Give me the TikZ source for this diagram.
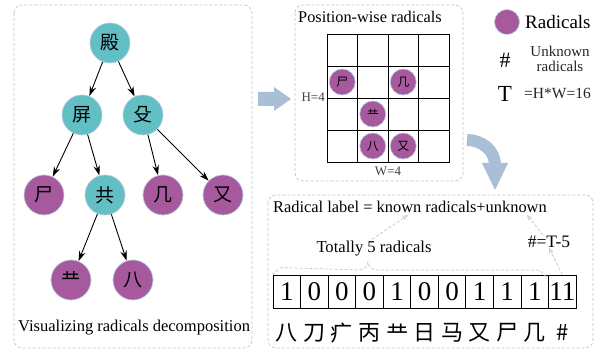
\documentclass[tikz,border=0pt]{standalone}
\usepackage{fontspec}
\setmainfont{Liberation Serif}
\newfontfamily\cjk{Noto Sans CJK SC}
\usetikzlibrary{arrows.meta}
\definecolor{tealc}{HTML}{62C0C4}
\definecolor{purp}{HTML}{A7599D}
\definecolor{dashc}{HTML}{B3C7DD}
\definecolor{barrow}{HTML}{A9BFD5}
\definecolor{rim}{HTML}{B9CBE6}
\begin{document}
\begin{tikzpicture}[x=1pt,y=-1pt,
  fs/.style={font=\fontsize{#1}{#1}\selectfont},
  tn/.style={circle,minimum size=40pt,inner sep=0pt,draw=rim,line width=0.7pt,font=\cjk\fontsize{19}{19}\selectfont},
  tealn/.style={tn,fill=tealc},
  radn/.style={tn,fill=purp},
  gn/.style={circle,minimum size=26pt,inner sep=0pt,draw=rim,line width=0.6pt,fill=purp,font=\cjk\fontsize{12}{12}\selectfont},
  cell/.style={draw=black,line width=0.9pt,minimum width=30.5pt,minimum height=32pt,inner sep=0pt},
  bcell/.style={draw=black,line width=0.9pt,minimum width=27.55pt,minimum height=33pt,inner sep=0pt,font=\fontsize{27}{27}\selectfont},
  dbox/.style={draw=dashc,line width=0.7pt,dash pattern=on 3pt off 2pt,rounded corners=8pt},
  tarr/.style={-{Stealth[length=10pt,width=6.5pt]},line width=0.9pt},
  darr/.style={draw=dashc,line width=0.7pt,dash pattern=on 3pt off 2pt,-{Triangle[open,length=5pt,width=4pt]}},
  dline/.style={draw=dashc,line width=0.7pt,dash pattern=on 3pt off 2pt},
  ]
\useasboundingbox (0,0) rectangle (611,352);
\fill[white] (0,0) rectangle (611,352);

% panels
\draw[dbox] (14,5) rectangle (252,348);
\draw[dbox] (295,5) rectangle (463,181);
\draw[dbox] (268,195) rectangle (593,348);

% tree
\node[tealn] (dian) at (110,43) {殿};
\node[tealn] (ping) at (82,115) {屏};
\node[tealn] (shu) at (143,115) {殳};
\node[radn] (shi) at (44,195) {尸};
\node[tealn] (gong) at (105,195) {共};
\node[radn] (ji) at (163,195) {几};
\node[radn] (you) at (223,195) {又};
\node[radn] (gg) at (71,280) {龷};
\node[radn] (ba) at (133,280) {八};
\draw[tarr] (dian) -- (ping);
\draw[tarr] (dian) -- (shu);
\draw[tarr] (ping) -- (shi);
\draw[tarr] (ping) -- (gong);
\draw[tarr] (shu) -- (ji);
\draw[tarr] (shu) -- (you);
\draw[tarr] (gong) -- (gg);
\draw[tarr] (gong) -- (ba);
\node[fs=16.5,anchor=west,inner sep=0pt] (vis) at (18,328) {Visualizing radicals decomposition};

% middle block arrow
\fill[barrow] (258,92) -- (274,92) -- (274,87) -- (291,99) -- (274,111) -- (274,106) -- (258,106) -- cycle;

% grid
\node[fs=16.3,inner sep=0pt] (pos) at (370,17) {Position-wise radicals};
\foreach \r in {0,1,2,3}{
  \foreach \c in {0,1,2,3}{
    \node[cell] (c-\r-\c) at ({342.25+30.5*\c},{50+32*\r}) {};
  }
}
\node[gn] (g1) at (c-1-0) {尸};
\node[gn] (g2) at (c-1-2) {几};
\node[gn] (g3) at (c-2-1) {龷};
\node[gn] (g4) at (c-3-1) {八};
\node[gn] (g5) at (c-3-2) {又};
\node[fs=13,text=black!75,anchor=east,inner sep=0pt] (hl) at (325,97) {H=4};
\node[fs=13,text=black!75,inner sep=0pt] (wl) at (388,171) {W=4};

% legend
\node[circle,minimum size=25pt,inner sep=0pt,fill=purp,draw=rim,line width=0.6pt] (lc) at (507,22) {};
\node[fs=19,anchor=west,inner sep=0pt] (lr) at (525,22) {Radicals};
\node[fs=22] (lh) at (505,60) {\#};
\node[align=center,text=black!85,inner sep=0pt,font=\fontsize{15}{15}\selectfont] (lu) at (560,59) {Unknown\\radicals};
\node[fs=23] (lt) at (505,94) {T};
\node[fs=15.5,anchor=west,text=black!85,inner sep=0pt] (lhw) at (524,93) {=H*W=16};

% curved arrow
\draw[barrow,line width=12pt] (467,140) to[out=0,in=90] (495,165);
\fill[barrow] (482,163) -- (508,163) -- (495,190) -- cycle;

% bottom panel
\node[fs=16.4,anchor=west,inner sep=0pt] (rl) at (273,207) {Radical label = known radicals+unknown};
\node[fs=16.6,inner sep=0pt] (tot) at (374,249) {Totally 5 radicals};
\node[fs=17.5,inner sep=0pt] (tm) at (549,242) {\#=T-5};
\foreach \d [count=\i from 0] in {1,0,0,0,1,0,0,1,1,1,11}{
  \node[bcell] (b\i) at ({286.8+27.55*\i},291.5) {\d};
}
\foreach \ch [count=\i from 0] in {八,刀,疒,丙,龷,日,马,又,尸,几,\#}{
  \node[font=\cjk\fontsize{22}{22}\selectfont,inner sep=0pt] (k\i) at ({286.8+27.55*\i},333) {\ch};
}
\coordinate (kr) at (408,215);
\coordinate (un) at (527,215);
\draw[dline] (b0.north west) ++(0,-1) to[out=-90,in=180] ++(9,-6) -- (359,270) to[out=0,in=-90] (368,262) to[out=-90,in=180] (377,270) -- (538,270) to[out=0,in=-90] (547,276);
\draw[darr] (tot.north) ++(-2,-2) -- (kr);
\draw[darr] (b10.north) -- (tm.south);
\draw[darr] (tm.north) ++(-6,-1) -- (un);
\end{tikzpicture}
\end{document}
